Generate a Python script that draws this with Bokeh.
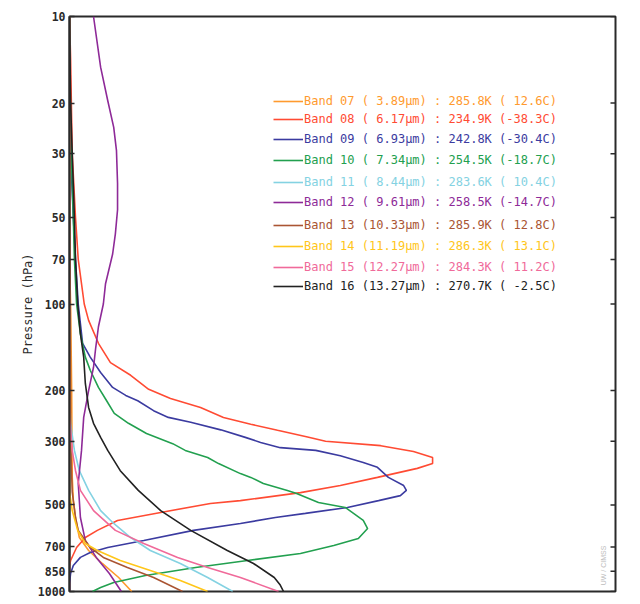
import math
from bokeh.plotting import figure
from bokeh.models import (Range1d, FixedTicker, PrintfTickFormatter,
                          Legend, LegendItem, Label)
from bokeh.embed import file_html
from bokeh.resources import INLINE

# ---------------- data ----------------
pressure_ticks = [10, 20, 30, 50, 70, 100, 200, 300, 500, 700, 850, 1000]

band_labels = [
    "Band 07 ( 3.89µm) : 285.8K ( 12.6C)",
    "Band 08 ( 6.17µm) : 234.9K (-38.3C)",
    "Band 09 ( 6.93µm) : 242.8K (-30.4C)",
    "Band 10 ( 7.34µm) : 254.5K (-18.7C)",
    "Band 11 ( 8.44µm) : 283.6K ( 10.4C)",
    "Band 12 ( 9.61µm) : 258.5K (-14.7C)",
    "Band 13 (10.33µm) : 285.9K ( 12.8C)",
    "Band 14 (11.19µm) : 286.3K ( 13.1C)",
    "Band 15 (12.27µm) : 284.3K ( 11.2C)",
    "Band 16 (13.27µm) : 270.7K ( -2.5C)",
]
band_colors = ["#ff9a2e", "#ff4b33", "#3b3ba0", "#22a04f", "#84d2e2",
               "#8e2a98", "#aa5533", "#ffc61a", "#f06a9a", "#222222"]

p07 = [10, 70, 100, 200, 400, 483, 553, 649, 720, 799, 894, 1000]
w07 = [0, 0, .002, .004, .005, .007, .011, .018, .035, .060, .090, .114]

p08 = [10, 14, 30, 50, 70, 100, 114, 137, 160, 177, 198, 213, 229, 248, 262, 275,
       290, 300, 311, 326, 342, 359, 373, 401, 428, 453, 483, 494, 531, 566, 613,
       649, 703, 780, 812, 1000]
w08 = [0, .002, .005, .011, .016, .027, .035, .053, .075, .112, .145, .185, .240,
       .282, .332, .381, .436, .469, .570, .630, .665, .665, .637, .564, .496, .423,
       .313, .258, .167, .088, .051, .029, .013, .002, 0, 0]

p09 = [10, 30, 50, 70, 100, 137, 153, 173, 195, 208, 217, 235, 248, 258, 274, 291,
       303, 316, 323, 337, 356, 370, 401, 428, 445, 464, 483, 510, 535, 553, 580,
       613, 665, 703, 732, 761, 812, 866, 938, 1000]
w09 = [0, .002, .007, .011, .016, .024, .038, .057, .079, .103, .125, .154, .181,
       .222, .277, .322, .350, .386, .451, .496, .538, .564, .584, .612, .617, .606,
       .566, .509, .432, .377, .313, .227, .136, .070, .038, .020, .007, .002, 0, 0]

p10 = [10, 25, 50, 70, 100, 127, 153, 170, 195, 217, 240, 260, 282, 306, 323, 342,
       359, 389, 401, 421, 445, 456, 490, 510, 566, 604, 654, 692, 738, 780, 825,
       880, 930, 968, 1000]
w10 = [0, .002, .007, .009, .013, .020, .029, .038, .053, .068, .082, .108, .141,
       .189, .212, .253, .273, .313, .332, .355, .399, .416, .456, .505, .538, .546,
       .529, .484, .423, .326, .231, .139, .081, .057, .042]

p11 = [10, 200, 260, 323, 380, 445, 523, 580, 649, 720, 799, 894, 1000]
w11 = [0, 0, .002, .009, .018, .035, .057, .081, .112, .148, .203, .253, .299]

p12 = [10, 15, 19.6, 24.3, 29.2, 38, 47, 57, 67, 85, 100, 120, 142, 166, 200, 248,
       323, 421, 553, 665, 761, 866, 1000]
w12 = [.044, .057, .070, .081, .086, .088, .088, .084, .079, .066, .062, .053,
       .048, .044, .035, .026, .022, .016, .020, .029, .049, .073, .095]

p13 = [10, 300, 450, 553, 613, 703, 761, 825, 894, 1000]
w13 = [0, .002, .005, .011, .016, .038, .062, .106, .154, .207]

p14 = [10, 450, 523, 613, 681, 720, 780, 845, 915, 1000]
w14 = [0, 0, .005, .015, .029, .051, .093, .148, .203, .253]

p15 = [10, 250, 323, 380, 445, 523, 613, 681, 761, 825, 894, 1000]
w15 = [0, 0, .005, .011, .020, .044, .084, .136, .198, .253, .313, .383]

p16 = [10, 20, 30, 50, 70, 100, 127, 153, 189, 229, 260, 291, 323, 380, 445, 523,
       613, 720, 799, 894, 950, 1000]
w16 = [0, .002, .005, .009, .011, .015, .020, .026, .029, .035, .044, .057, .070,
       .093, .126, .167, .222, .289, .337, .375, .386, .392]

profiles = [(w07, p07), (w08, p08), (w09, p09), (w10, p10), (w11, p11),
            (w12, p12), (w13, p13), (w14, p14), (w15, p15), (w16, p16)]

# ---------------- figure ----------------
MONO = "DejaVu Sans Mono"
FRAME_W, FRAME_H = 546, 575
AXIS_COL = "#2a2a2a"

p = figure(frame_width=FRAME_W, frame_height=FRAME_H,
           x_range=Range1d(0, 1), y_range=Range1d(1000, 10),
           y_axis_type="log", output_backend="svg", toolbar_location=None,
           min_border_left=69, min_border_top=16, min_border_right=10,
           min_border_bottom=8)
p.xaxis.visible = False
p.xgrid.visible = False
p.ygrid.visible = False
p.outline_line_color = AXIS_COL
p.outline_line_width = 2
p.background_fill_color = "white"
p.border_fill_color = "white"

yax = p.yaxis[0]
yax.ticker = FixedTicker(ticks=pressure_ticks, minor_ticks=[])
yax.formatter = PrintfTickFormatter(format="%d")
yax.major_tick_in = 5
yax.major_tick_out = 0
yax.minor_tick_in = 0
yax.minor_tick_out = 0
yax.major_tick_line_width = 1.5
yax.major_tick_line_color = AXIS_COL
yax.axis_line_width = 2
yax.axis_line_color = AXIS_COL
yax.major_label_text_font = MONO
yax.major_label_text_font_style = "bold"
yax.major_label_text_font_size = "11.5px"
yax.major_label_text_color = AXIS_COL
yax.major_label_standoff = 4
yax.axis_label = "Pressure (hPa)"
yax.axis_label_text_font = MONO
yax.axis_label_text_font_style = "normal"
yax.axis_label_text_font_size = "12px"
yax.axis_label_text_color = AXIS_COL
yax.axis_label_standoff = 0

# inward tick marks on the right-hand frame edge
p.ray(x=[1.0] * len(pressure_ticks), y=pressure_ticks, length=5,
      length_units="screen", angle=math.pi,
      line_color=AXIS_COL, line_width=1.5)

renderers = []
for (w, pr), col in zip(profiles, band_colors):
    r = p.line(w, pr, line_color=col, line_width=1.6)
    renderers.append(r)

# legend: one entry per band so each label can take its band's colour
row_offsets = [85, 102.5, 123, 144, 165.5, 186, 208.5, 230, 250.5, 270]
for lab, col, r, off in zip(band_labels, band_colors, renderers, row_offsets):
    lg = Legend(items=[LegendItem(label=lab, renderers=[r])],
                location=(204, FRAME_H - off - 7),
                padding=0, margin=0, spacing=0,
                glyph_width=30, glyph_height=14, label_height=14,
                label_standoff=1,
                label_text_font=MONO, label_text_font_size="12px",
                label_text_color=col,
                border_line_color=None, background_fill_alpha=0)
    p.add_layout(lg, "center")

p.add_layout(Label(x=534, y=26, x_units="screen", y_units="screen",
                   text="UW / CIMSS", angle=math.pi / 2,
                   text_align="center", text_baseline="middle",
                   text_font="Liberation Sans", text_font_size="7px",
                   text_color="#bdbdbd"))

open("out.html", "w").write(file_html(p, INLINE))
